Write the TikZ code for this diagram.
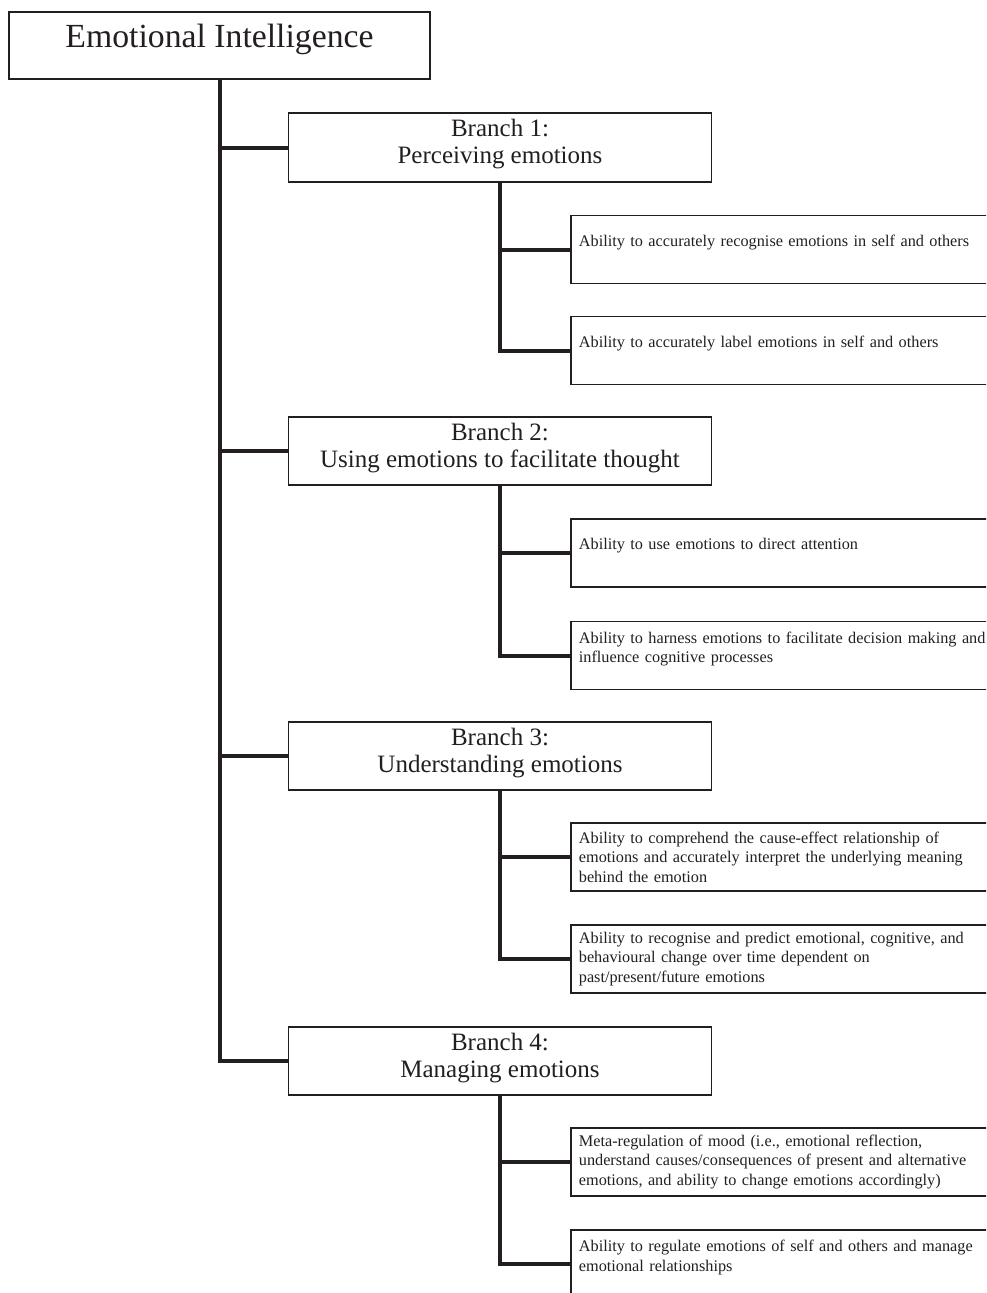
\documentclass[tikz,border=0pt]{standalone}
\usepackage{fontspec}
\setmainfont{Liberation Serif}
\definecolor{ink}{RGB}{35,31,32}
\newcommand\mydp[1]{\rule[-#1]{0pt}{0pt}}
\begin{document}
\begin{tikzpicture}[x=0.75pt,y=-0.75pt,
  box/.style={draw=ink,line width=1.3pt,rectangle,inner sep=0pt,text=ink,fill=white},
  eibox/.style={box,minimum width=315.75pt,minimum height=50.25pt,font=\fontsize{25.3}{30}\selectfont},
  branchbox/.style={box,minimum width=317.25pt,minimum height=51.4pt,align=center,font=\fontsize{18.75}{20.25}\selectfont},
  leafbox/.style={box,anchor=west,minimum height=51pt,inner xsep=6pt,text width=390pt,align=left,font=\fontsize{12.2}{14.6}\selectfont},
  conn/.style={draw=ink,line width=3pt}]
\useasboundingbox (0,0) rectangle (986,1293);
\clip (0,0) rectangle (986,1293);

\node[eibox] (ei) at (219.5,45.5) {Emotional Intelligence\mydp{14.5pt}};

\node[branchbox] (b1) at (500,147.5) {Branch 1:\\Perceiving emotions\mydp{9pt}};
\node[branchbox] (b2) at (500,451) {Branch 2:\\Using emotions to facilitate thought\mydp{9pt}};
\node[branchbox] (b3) at (500,756) {Branch 3:\\Understanding emotions\mydp{9pt}};
\node[branchbox] (b4) at (500,1061) {Branch 4:\\Managing emotions\mydp{9pt}};

\node[leafbox] (c11) at (570,249.5) {Ability to accurately recognise emotions in self and others\mydp{13.1pt}};
\node[leafbox] (c12) at (570,350.5) {Ability to accurately label emotions in self and others\mydp{13.1pt}};
\node[leafbox] (c21) at (570,553) {Ability to use emotions to direct attention\mydp{13.1pt}};
\node[leafbox] (c22) at (570,655.5) {Ability to harness emotions to facilitate decision making and\\influence cognitive processes\mydp{12.4pt}};
\node[leafbox] (c31) at (570,857) {Ability to comprehend the cause-effect relationship of\\emotions and accurately interpret the underlying meaning\\behind the emotion};
\node[leafbox] (c32) at (570,959) {Ability to recognise and predict emotional, cognitive, and\\behavioural change over time dependent on\\past/present/future emotions};
\node[leafbox] (c41) at (570,1162) {Meta-regulation of mood (i.e., emotional reflection,\\understand causes/consequences of present and alternative\\emotions, and ability to change emotions accordingly)};
\node[leafbox] (c42) at (570,1264) {Ability to regulate emotions of self and others and manage\\emotional relationships\mydp{12.4pt}};

\draw[conn] (ei.south) |- (b4.west);
\draw[conn] (ei.south |- b1.west) -- (b1.west);
\draw[conn] (ei.south |- b2.west) -- (b2.west);
\draw[conn] (ei.south |- b3.west) -- (b3.west);

\draw[conn] (b1.south) |- (c12.west);
\draw[conn] (b1.south |- c11.west) -- (c11.west);
\draw[conn] (b2.south) |- (c22.west);
\draw[conn] (b2.south |- c21.west) -- (c21.west);
\draw[conn] (b3.south) |- (c32.west);
\draw[conn] (b3.south |- c31.west) -- (c31.west);
\draw[conn] (b4.south) |- (c42.west);
\draw[conn] (b4.south |- c41.west) -- (c41.west);
\end{tikzpicture}
\end{document}
